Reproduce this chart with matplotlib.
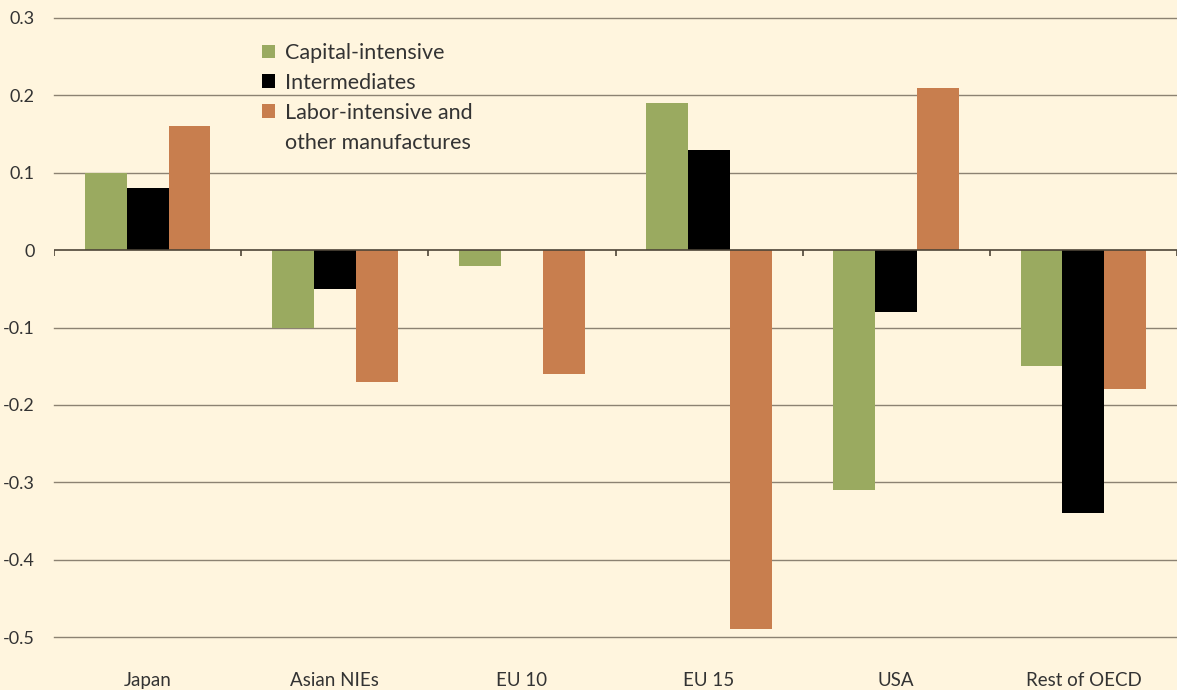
import matplotlib
matplotlib.use("Agg")
import matplotlib.pyplot as plt
import numpy as np
from matplotlib.patches import Patch

categories = ["Japan", "Asian NIEs", "EU 10", "EU 15", "USA", "Rest of OECD"]
capital = [0.10, -0.10, -0.02, 0.19, -0.31, -0.15]
intermediates = [0.08, -0.05, 0.0, 0.13, -0.08, -0.34]
labor = [0.16, -0.17, -0.16, -0.49, 0.21, -0.18]
series_names = ["Capital-intensive", "Intermediates", "Labor-intensive and", "other manufactures"]
yticks = [0.3, 0.2, 0.1, 0, -0.1, -0.2, -0.3, -0.4, -0.5]
ytick_labels = ["0.3", "0.2", "0.1", "0", "-0.1", "-0.2", "-0.3", "-0.4", "-0.5"]

bg = "#FFF5DE"
c_green = "#9AAA60"
c_black = "#000000"
c_orange = "#C87E4E"
grid_c = "#8C8272"

plt.rcParams['font.family'] = ['Lato', 'DejaVu Sans']

fig = plt.figure(figsize=(11.77, 6.90), dpi=100, facecolor=bg)
ax = fig.add_axes([54/1177, 1 - 637/690, 1 - 54/1177, (637-18)/690])
ax.set_facecolor(bg)

x = np.arange(len(categories))
w = 0.224
ax.set_xlim(-0.5, len(categories) - 0.5)
ax.set_ylim(-0.5, 0.3)

for yv in yticks:
    if yv != 0:
        ax.axhline(yv, color=grid_c, lw=1.0, zorder=0, clip_on=False)

ax.bar(x - w, capital, w, color=c_green, zorder=2)
ax.bar(x, intermediates, w, color=c_black, zorder=2)
ax.bar(x + w, labor, w, color=c_orange, zorder=2)

ax.axhline(0, color="#4E4538", lw=1.2, zorder=3)
bounds = np.arange(len(categories) + 1) - 0.5
ax.vlines(bounds, -0.008, 0, color="#4E4538", lw=1.2, zorder=3)

for s in ax.spines.values():
    s.set_visible(False)

ax.set_yticks(yticks)
ax.set_yticklabels(ytick_labels)
ax.set_xticks(x)
ax.set_xticklabels(categories)
ax.tick_params(axis='y', length=0, pad=14, labelsize=13, labelcolor="#333333")
ax.tick_params(axis='x', length=0, pad=25, labelsize=13.5, labelcolor="#333333")

handles = [Patch(facecolor=c_green), Patch(facecolor=c_black), Patch(facecolor=c_orange),
           Patch(facecolor='none', edgecolor='none')]
leg = fig.legend(handles, series_names, loc='upper left',
                 bbox_to_anchor=(262/1177, 1 - 43/690), frameon=False,
                 fontsize=15.5, handlelength=0.6, handleheight=0.6,
                 handletextpad=0.47, labelspacing=0.46, borderpad=0, borderaxespad=0)
for t in leg.get_texts():
    t.set_color("#333333")

fig.savefig("out.png", dpi=100, facecolor=bg)
